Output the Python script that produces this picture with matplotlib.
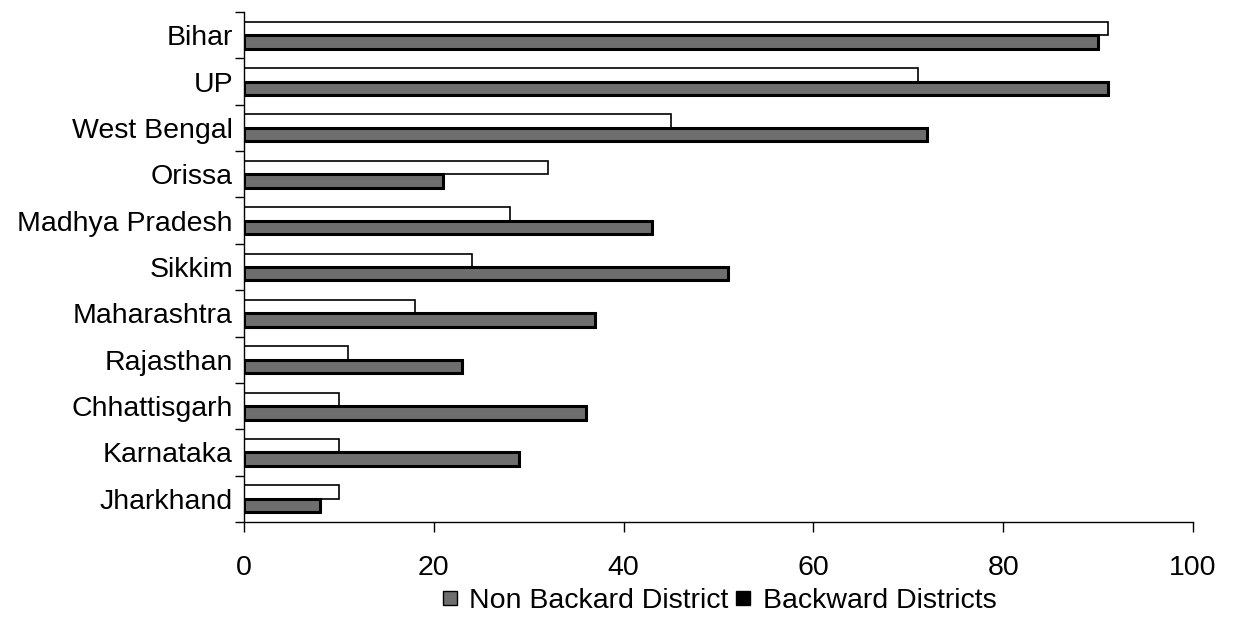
import numpy as np
import matplotlib.pyplot as plt
from matplotlib.lines import Line2D

plt.rcParams['font.family'] = ['Liberation Sans', 'DejaVu Sans']

states = ['Bihar', 'UP', 'West Bengal', 'Orissa', 'Madhya Pradesh', 'Sikkim',
          'Maharashtra', 'Rajasthan', 'Chhattisgarh', 'Karnataka', 'Jharkhand']
backward = [91, 71, 45, 32, 28, 24, 18, 11, 10, 10, 10]
non_backward = [90, 91, 72, 21, 43, 51, 37, 23, 36, 29, 8]

fig = plt.figure(figsize=(12.35, 6.2), dpi=100)
ax = fig.add_axes([0.1976, 0.158, 0.7684, 0.8226])

y = np.arange(len(states))
h = 0.29
ax.barh(y - h / 2, backward, height=h, color='white', edgecolor='black', linewidth=1.2)
ax.barh(y + h / 2, non_backward, height=h, color='#6e6e6e', edgecolor='black', linewidth=2.2)

ax.set_ylim(len(states) - 0.5, -0.5)
ax.set_xlim(0, 100)
ax.set_xticks(range(0, 101, 20))
ax.set_yticks(y)
ax.set_yticklabels(states)
ax.set_yticks(np.arange(-0.5, len(states), 1), minor=True)

ax.tick_params(axis='y', which='major', length=0, pad=8, labelsize=20.5)
ax.tick_params(axis='y', which='minor', length=6.5, width=1, direction='out')
ax.tick_params(axis='x', length=7, width=1, direction='out', pad=16.5, labelsize=20.5)

for s in ['top', 'right']:
    ax.spines[s].set_visible(False)
for s in ['left', 'bottom']:
    ax.spines[s].set_linewidth(1)

# square legend keys
handles = [Line2D([], [], marker='s', linestyle='none', markersize=9.5,
                  markerfacecolor='#6e6e6e', markeredgecolor='black', markeredgewidth=1,
                  label='Non Backard District'),
           Line2D([], [], marker='s', linestyle='none', markersize=9.5,
                  markerfacecolor='black', markeredgecolor='black',
                  label='Backward Districts')]
fig.legend(handles=handles, loc='center', bbox_to_anchor=(0.583, 0.03), ncol=2,
           frameon=False, fontsize=20.5, handlelength=0.45,
           handletextpad=0.45, columnspacing=0.3, borderpad=0)

fig.savefig('out.png', dpi=100)
